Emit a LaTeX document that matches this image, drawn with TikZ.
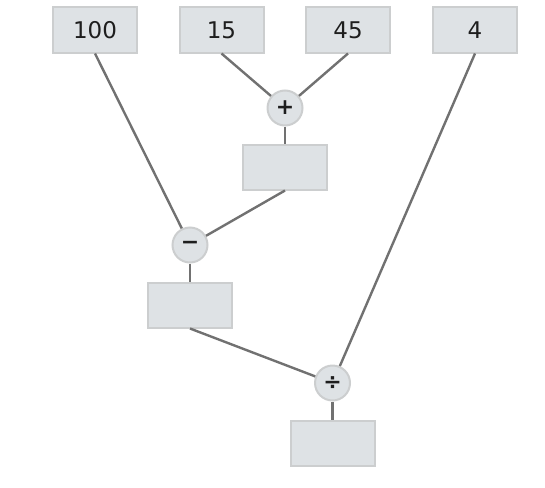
\documentclass[tikz,border=0pt]{standalone}
\usepackage{fontspec}
\setmainfont{DejaVu Sans}
\definecolor{boxfill}{HTML}{DEE2E5}
\definecolor{boxline}{HTML}{CCCECF}
\definecolor{edge}{HTML}{717171}
\definecolor{txt}{HTML}{1E1E1E}
\begin{document}
\begin{tikzpicture}[x=1pt,y=-1pt,
  valbox/.style={draw=boxline,fill=boxfill,line width=2pt,minimum width=84pt,minimum height=45pt,inner sep=0pt,text=txt,font=\fontsize{23}{26}\selectfont},
  opcirc/.style={circle,draw=boxline,fill=boxfill,line width=2pt,minimum size=35pt,inner sep=0pt,text=txt,font=\fontsize{22}{24}\selectfont\bfseries},
  conn/.style={draw=edge,line width=2.4pt}]
\useasboundingbox (0,0) rectangle (545,487);
\node[valbox] (a) at (95,30) {100};
\node[valbox] (b) at (221.5,30) {15};
\node[valbox] (c) at (348,30) {45};
\node[valbox] (d) at (475,30) {4};
\node[opcirc] (plus) at (285,108) {+};
\node[valbox] (r1) at (285,167) {};
\node[opcirc] (minus) at (190,245) {−};
\node[valbox] (r2) at (190,305) {};
\node[opcirc] (div) at (332.5,383) {÷};
\node[valbox] (r3) at (332.5,443) {};
\draw[conn] (b.south) -- (plus);
\draw[conn] (c.south) -- (plus);
\draw[conn] (plus) -- (r1);
\draw[conn] (a.south) -- (minus);
\draw[conn] (r1.south) -- (minus);
\draw[conn] (minus) -- (r2);
\draw[conn] (r2.south) -- (div);
\draw[conn] (d.south) -- (div);
\draw[conn] (div) -- (r3);
\end{tikzpicture}
\end{document}
